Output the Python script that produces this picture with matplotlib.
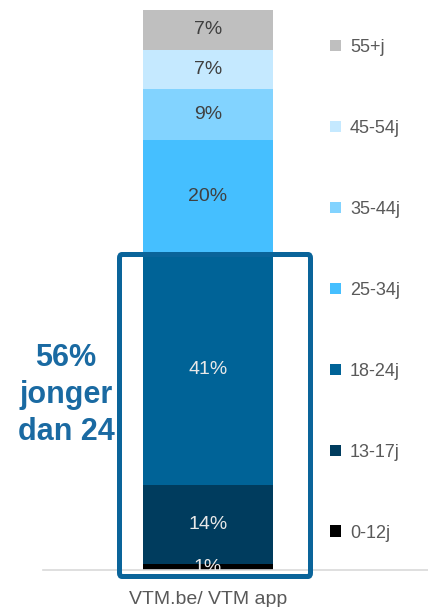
import matplotlib
import matplotlib.pyplot as plt
from matplotlib.patches import FancyBboxPatch, Patch

matplotlib.use("agg")
plt.rcParams["font.family"] = ["Liberation Sans", "DejaVu Sans"]

# age groups, bottom to top of the stack
groups = ["0-12j", "13-17j", "18-24j", "25-34j", "35-44j", "45-54j", "55+j"]
shares = [1, 14, 41, 20, 9, 7, 7]
colors = ["#000000", "#003c5e", "#006397", "#45bfff", "#82d3ff", "#c5e9ff", "#bfbfbf"]
label_colors = ["#e8e8e8", "#e8e8e8", "#e8e8e8", "#404040", "#404040", "#404040", "#404040"]
category = "VTM.be/ VTM app"
callout = "56%\njonger\ndan 24"

W, H = 428, 607
fig = plt.figure(figsize=(W / 100, H / 100), dpi=100)
ax = fig.add_axes([43 / W, 1 - 570 / H, 385 / W, 560 / H])

bottom = 0
for g, v, c, tc in zip(groups, shares, colors, label_colors):
    ax.bar([208], [v], bottom=bottom, width=130, color=c, label=g, zorder=2)
    ax.text(208, bottom + v / 2, f"{v}%", ha="center", va="center",
            fontsize=14, color=tc, clip_on=True, zorder=3)
    bottom += v

ax.set_xlim(43, 428)
ax.set_ylim(0, sum(shares))
ax.set_xticks([208])
ax.set_xticklabels([category], fontsize=14, color="#595959")
ax.tick_params(axis="x", length=0, pad=15)
ax.set_yticks([])
for side in ["top", "right", "left"]:
    ax.spines[side].set_visible(False)
ax.spines["bottom"].set_color("#d9d9d9")
ax.spines["bottom"].set_linewidth(1.2)

# legend, top entry = top of stack
handles = [Patch(facecolor=c, label=g) for g, c in zip(groups, colors)][::-1]
fig.legend(handles=handles, loc="upper left", bbox_to_anchor=(321 / W, 1 - 30 / H),
           frameon=False, fontsize=13, labelcolor="#595959",
           handlelength=0.6, handleheight=0.6, handletextpad=0.5,
           labelspacing=3.54, borderpad=0)

# callout box around the young groups
box = FancyBboxPatch((119.5 / W, 1 - 576.5 / H), 191 / W, 322 / H,
                     boxstyle="round,pad=0,rounding_size=0.006",
                     transform=fig.transFigure, fill=False,
                     edgecolor="#0a649a", linewidth=3.6, zorder=5)
fig.add_artist(box)
fig.text(66 / W, 1 - 395 / H, callout, ha="center", va="center",
         fontsize=22, fontweight="bold", color="#1a6aa2", linespacing=1.3)

fig.savefig("out.png", dpi=100)
